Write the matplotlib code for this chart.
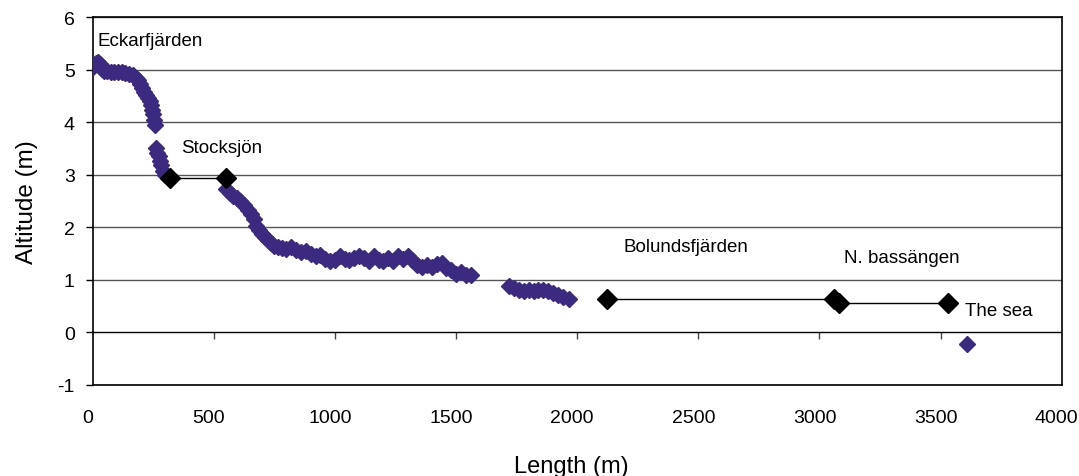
import matplotlib
matplotlib.use("Agg")
import matplotlib.pyplot as plt
from matplotlib.transforms import ScaledTranslation

plt.rcParams["font.family"] = ["Liberation Sans", "DejaVu Sans"]
plt.rcParams["axes.unicode_minus"] = False

# Measured profile along the stream (purple diamonds)
length_m = [0, 8, 15, 22, 30, 38, 45, 60, 75, 90, 105, 120, 135, 150, 165,
            178, 188, 196, 204, 212, 220, 228, 235, 242, 246, 250, 255, 258,
            262, 267, 272, 278, 284, 290, 298,
            550, 565, 580, 595, 610, 625, 640, 652, 664, 676, 688, 700, 712,
            724, 736, 750, 765, 780, 800, 820, 840, 860, 880, 900, 920, 940,
            960, 980, 1000, 1020, 1040, 1060, 1080, 1100, 1120, 1140, 1160,
            1180, 1200, 1220, 1240, 1260, 1280, 1300, 1320, 1340, 1360, 1380,
            1400, 1420, 1440, 1460, 1480, 1500, 1520, 1540, 1560,
            1720, 1740, 1760, 1780, 1800, 1820, 1840, 1860, 1880, 1900, 1920,
            1940, 1965,
            3610]
altitude_m = [5.05, 5.1, 5.13, 5.15, 5.1, 5.02, 4.98, 4.97, 4.96, 4.96, 4.95,
              4.95, 4.93, 4.92, 4.9, 4.85, 4.8, 4.72, 4.65, 4.58, 4.52, 4.46,
              4.4, 4.32, 4.24, 4.15, 4.05, 3.95,
              3.5, 3.42, 3.35, 3.27, 3.18, 3.08, 3.0,
              2.72, 2.65, 2.6, 2.55, 2.5, 2.42, 2.32, 2.25, 2.15, 2.02, 1.95,
              1.88, 1.82, 1.76, 1.7, 1.65, 1.62, 1.6, 1.58, 1.62, 1.57, 1.52,
              1.55, 1.5, 1.45, 1.47, 1.4, 1.35, 1.38, 1.45, 1.4, 1.38, 1.42,
              1.45, 1.42, 1.35, 1.45, 1.38, 1.35, 1.42, 1.36, 1.45, 1.4, 1.45,
              1.38, 1.28, 1.25, 1.28, 1.25, 1.3, 1.32, 1.22, 1.18, 1.12, 1.15,
              1.1, 1.1,
              0.88, 0.85, 0.8, 0.78, 0.8, 0.78, 0.8, 0.8, 0.78, 0.75, 0.72,
              0.68, 0.63,
              -0.22]

# Lakes: start / end of each water surface (black diamonds + line)
lake_start = [320, 2125, 3080]
lake_end = [550, 3060, 3530]
lake_level = [2.94, 0.63, 0.55]

# Place names
names = ["Eckarfjärden", "Stocksjön", "Bolundsfjärden", "N. bassängen", "The sea"]
name_x = [20, 365, 2190, 3100, 3600]
name_y = [5.55, 3.52, 1.63, 1.43, 0.42]

fig = plt.figure(figsize=(10.79, 4.77), dpi=100)
ax = fig.add_axes([0.0859, 0.191, 0.8981, 0.771])

ax.set_xlim(0, 4000)
ax.set_ylim(-1, 6)

for y in range(-1, 7):
    ax.axhline(y, color="#555555" if y != 0 else "black", lw=1, zorder=1)

for xs, xe, lv in zip(lake_start, lake_end, lake_level):
    ax.plot([xs, xe], [lv, lv], color="black", lw=1, zorder=2)
    ax.plot([xs, xe], [lv, lv], ls="none", marker="D", ms=10.2,
            color="black", zorder=4)

ax.plot(length_m, altitude_m, ls="none", marker="D", ms=8.0,
        color="#3C2A80", zorder=3)

for t, tx, ty in zip(names, name_x, name_y):
    ax.text(tx, ty, t, fontsize=13.5, ha="left", va="center")

# frame
for s in ax.spines.values():
    s.set_linewidth(1.2)
    s.set_color("black")

ax.set_yticks(range(-1, 7))
ax.set_xticks(range(0, 4001, 500))
ax.tick_params(axis="y", direction="out", length=5, width=1, pad=8,
               labelsize=14)
ax.tick_params(axis="x", length=0, pad=17, labelsize=14)

# x tick labels sit a little left of their positions, like the original
shift = ScaledTranslation(-5 / 100, 0, fig.dpi_scale_trans)
for lbl in ax.get_xticklabels():
    lbl.set_transform(lbl.get_transform() + shift)

# tick marks hanging from the zero line
zero_axis = ax.secondary_xaxis(1 / 7)
zero_axis.set_xticks(range(500, 4000, 500))
zero_axis.tick_params(direction="out", length=5, width=1, color="#444444",
                      labelbottom=False, labeltop=False)
zero_axis.spines["bottom"].set_visible(False)
zero_axis.spines["top"].set_visible(False)

ax.set_xlabel("Length (m)", fontsize=17, labelpad=21)
ax.xaxis.label.set_x(0.4936)
ax.set_ylabel("Altitude (m)", fontsize=17.5, labelpad=14)

fig.savefig("out.png", dpi=100)
